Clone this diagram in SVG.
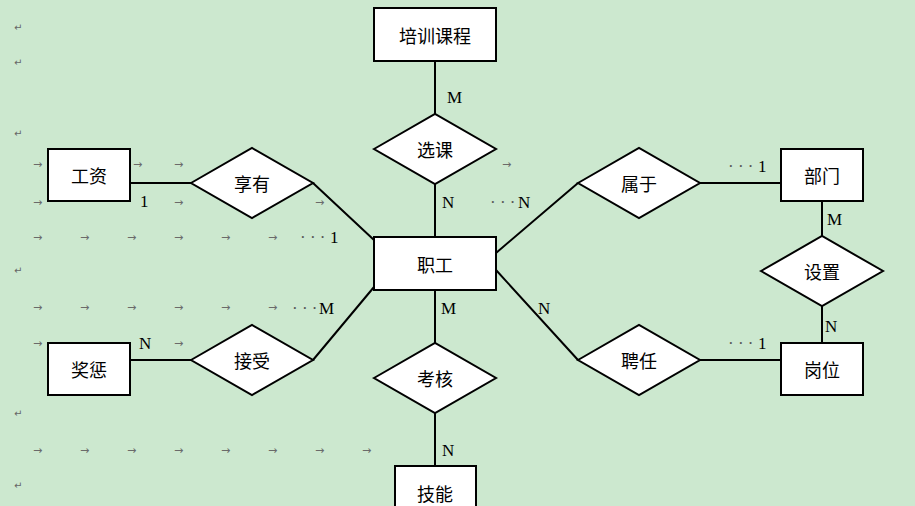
<svg xmlns="http://www.w3.org/2000/svg" width="915" height="506" viewBox="0 0 915 506">
<style>
.n{fill:#fff;stroke:#000;stroke-width:2}
.t{font-family:"Noto Sans CJK SC",sans-serif;font-size:18px;text-anchor:middle;dominant-baseline:central}
.c{stroke:#000;stroke-width:2;fill:none}
.l{font-family:"Liberation Serif",serif;font-size:17px}
.m{font-family:"DejaVu Sans",sans-serif;font-size:11px;fill:#6a6a6a}
.r{font-family:"DejaVu Sans",sans-serif;font-size:10px;fill:#666}
</style>
<rect width="915" height="506" fill="#cce8cf"/>
<g id="marks">
<text class="r" x="14" y="31">↵</text><text class="r" x="14" y="66">↵</text><text class="r" x="14" y="137">↵</text><text class="r" x="14" y="274">↵</text><text class="r" x="14" y="417">↵</text><text class="r" x="14" y="489">↵</text>
<g class="m">
<text x="33" y="168">→</text><text x="133" y="168">→</text><text x="174" y="168">→</text><text x="455" y="168">→</text><text x="502" y="168">→</text>
<text x="33" y="206">→</text><text x="174" y="206">→</text><text x="315" y="206">→</text>
<text x="33" y="241">→</text><text x="80" y="241">→</text><text x="127" y="241">→</text><text x="174" y="241">→</text><text x="221" y="241">→</text><text x="268" y="241">→</text>
<text x="33" y="311">→</text><text x="80" y="311">→</text><text x="127" y="311">→</text><text x="174" y="311">→</text><text x="221" y="311">→</text><text x="268" y="311">→</text>
<text x="33" y="347">→</text><text x="174" y="347">→</text>
<text x="33" y="454">→</text><text x="80" y="454">→</text><text x="127" y="454">→</text><text x="174" y="454">→</text><text x="221" y="454">→</text><text x="268" y="454">→</text><text x="315" y="454">→</text><text x="362" y="454">→</text>
</g>
</g>
<g id="connectors">
<path class="c" d="M435 61V114M435 184V237M435 290V343M435 413V466M130 183H191M130 360H191M313 183L374 240M313 360L374 287M578 183L496 253M578 360L496 270M700 183H781M700 360H781M822 201V236M822 306V343"/>
<g class="l">
<text x="447" y="103">M</text><text x="442" y="208">N</text><text x="490" y="208" fill="#555">· · ·</text><text x="518" y="208">N</text>
<text x="140" y="207">1</text><text x="300" y="243" fill="#555">· · ·</text><text x="330" y="243">1</text>
<text x="728" y="172" fill="#555">· · ·</text><text x="758" y="172">1</text>
<text x="827" y="225">M</text><text x="825" y="332">N</text>
<text x="292" y="314" fill="#555">· · ·</text><text x="319" y="314">M</text><text x="441" y="314">M</text><text x="538" y="314">N</text>
<text x="139" y="349">N</text><text x="728" y="349" fill="#555">· · ·</text><text x="758" y="349">1</text>
<text x="442" y="456">N</text>
</g>
</g>
<g id="培训课程"><rect class="n" x="374" y="8" width="122" height="53"/><text class="t" x="435" y="35">培训课程</text></g>
<g id="选课"><polygon class="n" points="374,149 435,114 496,149 435,184"/><text class="t" x="435" y="149">选课</text></g>
<g id="职工"><rect class="n" x="374" y="237" width="122" height="53"/><text class="t" x="435" y="264">职工</text></g>
<g id="考核"><polygon class="n" points="374,378 435,343 496,378 435,413"/><text class="t" x="435" y="378">考核</text></g>
<g id="技能"><rect class="n" x="395" y="466" width="81" height="50"/><text class="t" x="435" y="493">技能</text></g>
<g id="工资"><rect class="n" x="48" y="149" width="82" height="52"/><text class="t" x="89" y="175">工资</text></g>
<g id="享有"><polygon class="n" points="191,183 252,148 313,183 252,218"/><text class="t" x="252" y="183">享有</text></g>
<g id="奖惩"><rect class="n" x="48" y="343" width="82" height="52"/><text class="t" x="89" y="369">奖惩</text></g>
<g id="接受"><polygon class="n" points="191,360 252,325 313,360 252,395"/><text class="t" x="252" y="360">接受</text></g>
<g id="属于"><polygon class="n" points="578,183 639,148 700,183 639,218"/><text class="t" x="639" y="183">属于</text></g>
<g id="部门"><rect class="n" x="781" y="149" width="82" height="52"/><text class="t" x="822" y="175">部门</text></g>
<g id="设置"><polygon class="n" points="761,271 822,236 883,271 822,306"/><text class="t" x="822" y="271">设置</text></g>
<g id="岗位"><rect class="n" x="781" y="343" width="82" height="52"/><text class="t" x="822" y="369">岗位</text></g>
<g id="聘任"><polygon class="n" points="578,360 639,325 700,360 639,395"/><text class="t" x="639" y="360">聘任</text></g>
</svg>
